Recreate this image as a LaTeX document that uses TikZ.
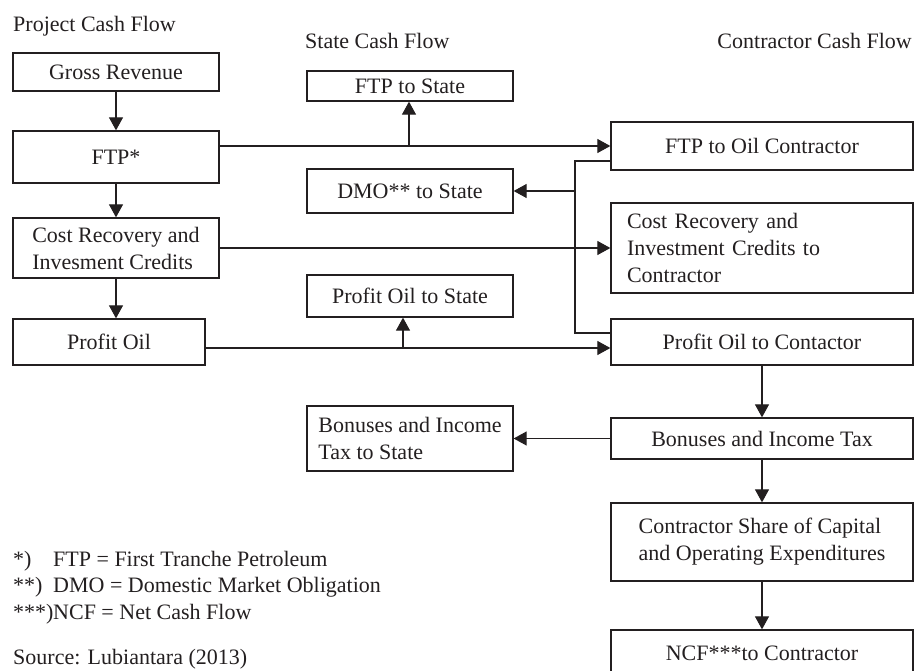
\documentclass[tikz,border=0pt]{standalone}
\usepackage{fontspec}
\setmainfont{Liberation Serif}
\usetikzlibrary{arrows.meta}
\definecolor{ink}{HTML}{231F20}
\begin{document}
\begin{tikzpicture}[x=1pt,y=-1pt,
  font=\fontsize{22}{27}\selectfont,
  box/.style={draw=ink,line width=1.3pt,inner sep=0pt,text=ink},
  lbl/.style={inner sep=0pt,text=ink},
  conn/.style={draw=ink,line width=1.1pt},
  arr/.style={conn,-{Triangle[width=14pt,length=13pt]}}]
\useasboundingbox (0,0) rectangle (914,671);
% headers
\node[lbl,anchor=base west] (h1) at (13,32) {Project Cash Flow};
\node[lbl,anchor=base west] (h2) at (305,49) {State Cash Flow};
\node[lbl,anchor=base east] (h3) at (912,49) {Contractor Cash Flow};
% project column
\node[box,minimum width=206,minimum height=38] (gr) at (116,72) {Gross Revenue};
\node[box,minimum width=206,minimum height=52] (ftp) at (116,157) {FTP*};
\node[box,minimum width=206,minimum height=60,align=left] (cr) at (116,248) {Cost Recovery and\\Invesment Credits};
\node[box,minimum width=192,minimum height=46] (po) at (109,342) {Profit Oil};
% state column
\node[box,minimum width=206,minimum height=30] (ftps) at (410,86) {FTP to State};
\node[box,minimum width=206,minimum height=44] (dmo) at (410,191) {DMO** to State};
\node[box,minimum width=206,minimum height=42] (pos) at (410,296) {Profit Oil to State};
\node[box,minimum width=206,minimum height=65,align=left] (bits) at (410,438.5) {Bonuses and Income\\Tax to State};
% contractor column
\node[box,minimum width=302,minimum height=48] (ftpoc) at (762,146) {FTP to Oil Contractor};
\node[box,minimum width=302,minimum height=90,text width=270,align=left] (crc) at (762,248) {Cost Recovery and\\Investment Credits to\\Contractor};
\node[box,minimum width=302,minimum height=46] (poc) at (762,342) {Profit Oil to Contactor};
\node[box,minimum width=302,minimum height=41] (bit) at (762,438.5) {Bonuses and Income Tax};
\node[box,minimum width=302,minimum height=78,align=left] (cs) at (762,542) {Contractor Share of Capital\\and Operating Expenditures};
\node[box,minimum width=302,minimum height=46] (ncf) at (762,653) {NCF***to Contractor};
% junction coordinates
\coordinate (fj) at (409,146);
\coordinate (pj) at (403,348);
\coordinate (j1) at (575,161);
\coordinate (j2) at (575,333);
% connectors
\draw[arr] (gr) -- (ftp);
\draw[arr] (ftp) -- (cr);
\draw[arr] (cr) -- (cr.south |- po.north);
\draw[arr] (ftp.east |- ftpoc) -- (ftpoc.west);
\draw[arr] (fj) -- (ftps.south -| fj);
\draw[arr] (cr.east) -- (crc.west);
\draw[arr] (po.east |- pj) -- (poc.west |- pj);
\draw[arr] (pj) -- (pos.south -| pj);
\draw[conn] (ftpoc.west |- j1) -- (j1) -- (j2) -- (poc.west |- j2);
\draw[arr] (j1 |- dmo) -- (dmo.east);
\draw[arr] (poc) -- (bit);
\draw[arr] (bit.west) -- (bits.east);
\draw[arr] (bit) -- (cs);
\draw[arr] (cs) -- (ncf);
% notes
\node[lbl,anchor=base west] (n1a) at (13,566.7) {*)};
\node[lbl,anchor=base west] (n1b) at (53,566.7) {FTP = First Tranche Petroleum};
\node[lbl,anchor=base west] (n2a) at (13,592.7) {**)};
\node[lbl,anchor=base west] (n2b) at (53,592.7) {DMO = Domestic Market Obligation};
\node[lbl,anchor=base west] (n3a) at (13,619.3) {***)};
\node[lbl,anchor=base west] (n3b) at (53,619.3) {NCF = Net Cash Flow};
\node[lbl,anchor=base west] (src) at (13,664) {Source: Lubiantara (2013)};
\end{tikzpicture}
\end{document}
